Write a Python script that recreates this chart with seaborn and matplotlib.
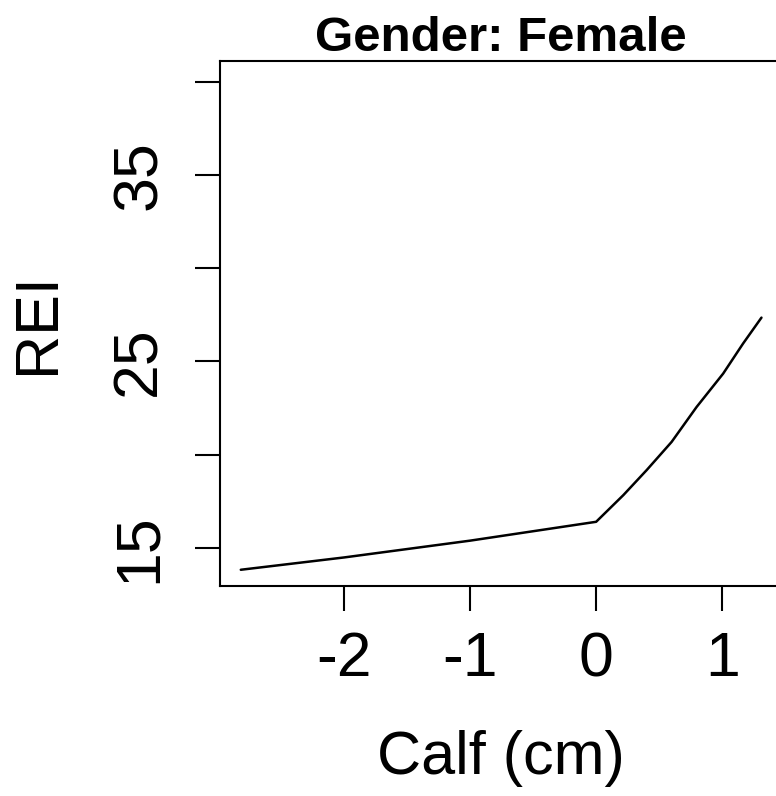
import numpy as np
import pandas as pd
import matplotlib
matplotlib.use("Agg")
import matplotlib.pyplot as plt
import seaborn as sns

# Data
calf_cm = [-2.82, -2.0, -1.0, 0.0, 0.216, 0.401, 0.599, 0.797, 1.008, 1.166, 1.312]
rei = [13.84, 14.50, 15.40, 16.41, 17.84, 19.18, 20.69, 22.56, 24.35, 25.96, 27.35]
x_ticks = [-2, -1, 0, 1]
x_tick_labels = ["-2", "-1", "0", "1"]
y_ticks = [15, 20, 25, 30, 35, 40]
y_tick_labels = ["15", "", "25", "", "35", ""]
title = "Gender: Female"
x_label = "Calf (cm)"
y_label = "REI"

sns.set_style("ticks")
plt.rcParams["font.family"] = ["Liberation Sans", "DejaVu Sans"]

df = pd.DataFrame({"Calf (cm)": calf_cm, "REI": rei})

fig = plt.figure(figsize=(7.76, 7.96), dpi=100)
ax = fig.add_axes([220 / 776, (796 - 586) / 796, (782 - 220) / 776, (586 - 61) / 796])

sns.lineplot(data=df, x="Calf (cm)", y="REI", ax=ax, color="black",
             linewidth=1.8, sort=False, estimator=None)

ax.set_xlim(-2.985, 1.475)
ax.set_ylim(12.97, 41.1)

ax.set_xticks(x_ticks)
ax.set_xticklabels(x_tick_labels)
ax.set_yticks(y_ticks)
ax.set_yticklabels(y_tick_labels, rotation=90, va="center")

ax.tick_params(axis="both", direction="out", length=18, width=1.5,
               color="black", labelsize=45, labelcolor="black")
ax.tick_params(axis="x", pad=14)
ax.tick_params(axis="y", pad=19)

for s in ax.spines.values():
    s.set_visible(True)
    s.set_linewidth(1.5)
    s.set_color("black")

ax.set_xlabel(x_label, fontsize=44, labelpad=29, color="black")
ax.set_ylabel(y_label, fontsize=44, labelpad=31, color="black")
ax.set_title(title, fontsize=35.5, fontweight="bold", pad=6, color="black")

fig.savefig("out.png", dpi=100)
